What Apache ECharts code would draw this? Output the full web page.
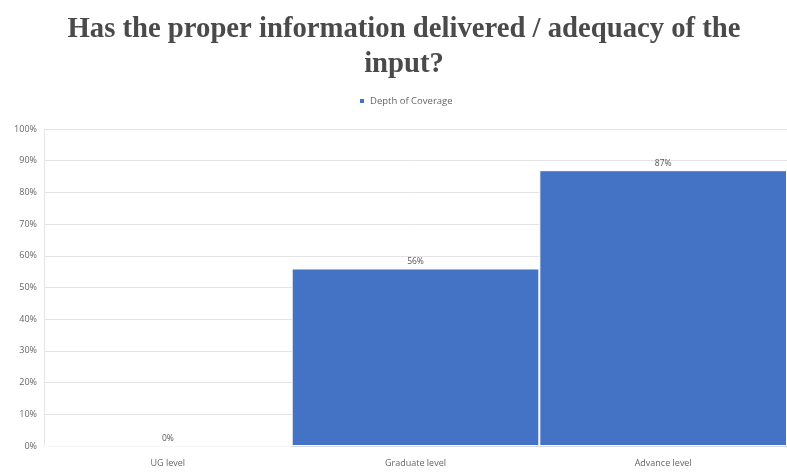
<!DOCTYPE html>
<html><head><meta charset="utf-8">
<script src="https://cdn.jsdelivr.net/npm/echarts@6/dist/echarts.min.js"></script>
<style>html,body{margin:0;padding:0;background:#fff}#c{width:787px;height:472px}</style>
</head><body><div id="c"></div>
<script>
const categories = ['UG level', 'Graduate level', 'Advance level'];
const seriesName = 'Depth of Coverage';
const values = [0, 56, 87];
const yTicks = [0, 10, 20, 30, 40, 50, 60, 70, 80, 90, 100];

const chart = echarts.init(document.getElementById('c'));
chart.setOption({
  animation: false,
  backgroundColor: '#fff',
  title: {
    text: 'Has the proper information delivered / adequacy of the\ninput?',
    left: 399, top: 7, textAlign: 'center',
    textStyle: { fontFamily: 'Liberation Serif', fontWeight: 'bold', fontSize: 28.7, color: '#4a4a4a', lineHeight: 35 }
  },
  legend: {
    top: 91, left: 353, itemWidth: 6, itemHeight: 6, itemGap: 4,
    icon: 'rect',
    textStyle: { fontSize: 9.5, color: '#666', fontFamily: 'Open Sans' },
    data: [seriesName]
  },
  grid: { left: 44, right: 0, top: 129, bottom: 26 },
  xAxis: {
    type: 'category', data: categories,
    axisLine: { lineStyle: { color: '#d9d9d9' } },
    axisTick: { show: false },
    axisLabel: { fontSize: 9, color: '#666', margin: 13, fontFamily: 'Open Sans' }
  },
  yAxis: {
    type: 'value', min: 0, max: 100, interval: 10,
    axisLine: { show: true, lineStyle: { color: '#e6e6e6' } },
    axisLabel: { fontSize: 9, color: '#666', margin: 7, fontFamily: 'Open Sans',
      formatter: v => yTicks.includes(v) ? v + '%' : '' },
    splitLine: { lineStyle: { color: '#e3e3e3' } }
  },
  series: [{
    name: seriesName, type: 'bar', data: values,
    barCategoryGap: 0,
    itemStyle: { color: '#4472c4', borderColor: '#fff', borderWidth: 1 },
    label: { show: true, position: 'top', distance: 2, fontSize: 8.5, color: '#555', fontFamily: 'Open Sans',
      formatter: p => p.value + '%' }
  }]
});
</script></body></html>
